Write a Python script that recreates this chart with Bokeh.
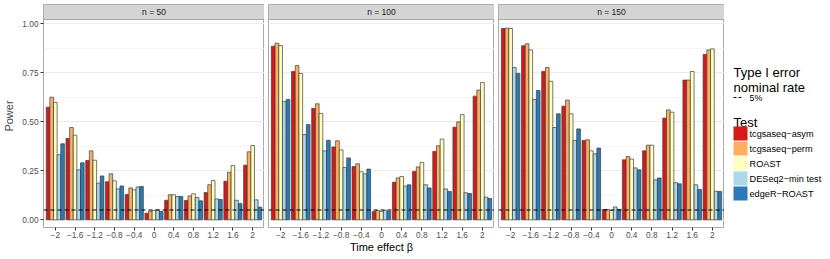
from bokeh.plotting import figure
from bokeh.layouts import row
from bokeh.models import (ColumnDataSource, Range1d, FixedTicker, Span,
                          CustomJSTickFormatter, NumeralTickFormatter)
from bokeh.transform import dodge
from bokeh.core.properties import value
from bokeh.embed import file_html
from bokeh.resources import INLINE

# ---------------- data ----------------
beta = [-2, -1.6, -1.2, -0.8, -0.4, 0, 0.4, 0.8, 1.2, 1.6, 2]
beta_labels = ["\u22122", "\u22121.6", "\u22121.2", "\u22120.8", "\u22120.4", "0",
               "0.4", "0.8", "1.2", "1.6", "2"]
tests = ["tcgsaseq\u2212asym", "tcgsaseq\u2212perm", "ROAST", "DESeq2\u2212min test", "edgeR\u2212ROAST"]
test_keys = ["asym", "perm", "roast", "deseq", "edger"]
colors = ["#D7191C", "#FDAE61", "#FFFFBF", "#ABD9E9", "#2C7BB6"]
panel_labels = ["n = 50", "n = 100", "n = 150"]
y_ticks = [0, 0.25, 0.5, 0.75, 1.0]
y_minor = [0.125, 0.375, 0.625, 0.875]
nominal_rate = 0.05

asym_n50 = [0.575, 0.415, 0.303, 0.194, 0.129, 0.034, 0.100, 0.099, 0.139, 0.197, 0.279]
perm_n50 = [0.626, 0.471, 0.352, 0.235, 0.163, 0.044, 0.128, 0.122, 0.179, 0.243, 0.347]
roast_n50 = [0.599, 0.432, 0.304, 0.199, 0.153, 0.048, 0.128, 0.133, 0.201, 0.277, 0.379]
deseq_n50 = [0.332, 0.255, 0.187, 0.158, 0.168, 0.051, 0.119, 0.114, 0.107, 0.100, 0.102]
edger_n50 = [0.388, 0.291, 0.224, 0.173, 0.170, 0.043, 0.119, 0.097, 0.104, 0.083, 0.065]

asym_n100 = [0.886, 0.757, 0.568, 0.372, 0.272, 0.043, 0.192, 0.247, 0.349, 0.473, 0.631]
perm_n100 = [0.901, 0.787, 0.592, 0.403, 0.286, 0.048, 0.214, 0.270, 0.378, 0.500, 0.662]
roast_n100 = [0.889, 0.747, 0.543, 0.357, 0.245, 0.043, 0.221, 0.293, 0.412, 0.537, 0.701]
deseq_n100 = [0.604, 0.435, 0.352, 0.267, 0.235, 0.049, 0.172, 0.179, 0.158, 0.138, 0.116]
edger_n100 = [0.614, 0.486, 0.406, 0.316, 0.259, 0.044, 0.179, 0.163, 0.145, 0.134, 0.109]

asym_n150 = [0.976, 0.888, 0.757, 0.580, 0.405, 0.053, 0.306, 0.352, 0.519, 0.713, 0.844]
perm_n150 = [0.978, 0.898, 0.777, 0.611, 0.408, 0.053, 0.323, 0.381, 0.561, 0.713, 0.867]
roast_n150 = [0.976, 0.867, 0.707, 0.541, 0.352, 0.048, 0.310, 0.381, 0.549, 0.757, 0.872]
deseq_n150 = [0.777, 0.614, 0.471, 0.405, 0.337, 0.066, 0.265, 0.204, 0.190, 0.179, 0.146]
edger_n150 = [0.747, 0.660, 0.541, 0.464, 0.366, 0.054, 0.255, 0.214, 0.184, 0.155, 0.145]

panels_data = [
    [asym_n50, perm_n50, roast_n50, deseq_n50, edger_n50],
    [asym_n100, perm_n100, roast_n100, deseq_n100, edger_n100],
    [asym_n150, perm_n150, roast_n150, deseq_n150, edger_n150],
]

# ---------------- layout constants ----------------
FONT = "Liberation Sans"
H = 258
TOP = 4
BOTTOM = 31
FRAME_W = 226
FRAME_H = H - TOP - BOTTOM          # 223
STRIP_H = 15
PLOT_H = FRAME_H - STRIP_H          # 208
Y0, Y1 = -0.039, 1.022
Y_TOP = Y1 + (Y1 - Y0) * STRIP_H / PLOT_H
X0, X1 = -2.24, 2.24
BW = 0.0735
BORDER_GREY = "#A9A9A9"


def make_panel(idx, left_border):
    p = figure(width=left_border + FRAME_W, height=H,
               x_range=Range1d(X0, X1), y_range=Range1d(Y0, Y_TOP),
               output_backend="svg", toolbar_location=None,
               min_border_left=left_border, min_border_right=0,
               min_border_top=TOP, min_border_bottom=BOTTOM)
    p.background_fill_color = "white"
    p.border_fill_color = "white"
    p.outline_line_color = BORDER_GREY
    p.outline_line_width = 1

    # grid
    p.xgrid.grid_line_color = None
    p.ygrid.ticker = FixedTicker(ticks=y_ticks, minor_ticks=y_minor)
    p.ygrid.grid_line_color = "#EBEBEB"
    p.ygrid.grid_line_width = 1
    p.ygrid.minor_grid_line_color = "#F3F3F3"
    p.ygrid.minor_grid_line_width = 0.8

    src = ColumnDataSource(dict(beta=beta, **{k: v for k, v in zip(test_keys, panels_data[idx])}))
    for j, key in enumerate(test_keys):
        p.vbar(x=dodge("beta", (j - 2) * BW, range=p.x_range), top=key, bottom=0,
               width=BW, source=src, fill_color=colors[j],
               line_color="#3C3C3C", line_width=0.7)

    p.add_layout(Span(location=nominal_rate, dimension="width", line_color="black",
                      line_dash="4 3", line_width=1.1))

    # strip
    p.quad(left=[X0], right=[X1], bottom=[Y1], top=[Y_TOP],
           fill_color="#D4D4D4", line_color=BORDER_GREY, line_width=1)
    p.text(x=[(X0 + X1) / 2], y=[(Y1 + Y_TOP) / 2], text=[panel_labels[idx]],
           text_font=value(FONT), text_font_size="8.5px", text_color="#1A1A1A",
           text_align="center", text_baseline="middle")

    # x axis
    xa = p.xaxis[0]
    xa.ticker = FixedTicker(ticks=beta, minor_ticks=[])
    xa.formatter = CustomJSTickFormatter(args=dict(vals=beta, labs=beta_labels), code="""
        let best = 0;
        for (let i = 0; i < vals.length; i++) {
            if (Math.abs(vals[i] - tick) < Math.abs(vals[best] - tick)) best = i;
        }
        return labs[best];
    """)
    xa.axis_line_color = None
    xa.major_tick_line_color = "#333333"
    xa.major_tick_out = 3
    xa.major_tick_in = 0
    xa.minor_tick_line_color = None
    xa.major_label_text_font = FONT
    xa.major_label_text_font_size = "8.3px"
    xa.major_label_text_color = "#4D4D4D"
    xa.major_label_standoff = 1
    xa.axis_label = "Time effect \u03b2"
    xa.axis_label_text_font = FONT
    xa.axis_label_text_font_size = "11px"
    xa.axis_label_text_font_style = "normal"
    xa.axis_label_standoff = 0
    xa.axis_label_text_color = "black" if idx == 1 else None

    # y axis
    ya = p.yaxis[0]
    if idx == 0:
        ya.ticker = FixedTicker(ticks=y_ticks, minor_ticks=[])
        ya.formatter = NumeralTickFormatter(format="0.00")
        ya.axis_line_color = None
        ya.major_tick_line_color = "#333333"
        ya.major_tick_out = 3
        ya.major_tick_in = 0
        ya.minor_tick_line_color = None
        ya.major_label_text_font = FONT
        ya.major_label_text_font_size = "8.3px"
        ya.major_label_text_color = "#4D4D4D"
        ya.major_label_standoff = 2
        ya.axis_label = "Power"
        ya.axis_label_text_font = FONT
        ya.axis_label_text_font_size = "11px"
        ya.axis_label_text_font_style = "normal"
        ya.axis_label_standoff = 4
    else:
        ya.visible = False
    return p


p1 = make_panel(0, 38)
p2 = make_panel(1, 4)
p3 = make_panel(2, 4)

# ---------------- legend panel (data units = page pixels) ----------------
LX0 = 38 + FRAME_W + 2 * (4 + FRAME_W)   # 724
LW = 104
leg = figure(width=LW, height=H, x_range=Range1d(LX0, LX0 + LW),
             y_range=Range1d(TOP + FRAME_H, TOP),
             output_backend="svg", toolbar_location=None,
             x_axis_location=None, y_axis_location=None,
             min_border_left=0, min_border_right=0,
             min_border_top=TOP, min_border_bottom=BOTTOM)
leg.outline_line_color = None
leg.xgrid.grid_line_color = None
leg.ygrid.grid_line_color = None
leg.background_fill_color = "white"
leg.border_fill_color = "white"

leg.text(x=[733, 733], y=[72, 87], text=["Type I error", "nominal rate"],
         text_font=value(FONT), text_font_size="13px", text_color="black",
         text_baseline="alphabetic")
leg.segment(x0=[733], y0=[97], x1=[742], y1=[97], line_color="black",
            line_dash="3 2", line_width=1)
leg.text(x=[749], y=[97], text=["5%"], text_font=value(FONT), text_font_size="8.8px",
         text_color="black", text_baseline="middle")
leg.text(x=[733], y=[122], text=["Test"], text_font=value(FONT), text_font_size="13px",
         text_color="black", text_baseline="alphabetic")
key_y = [133 + 15 * i for i in range(len(tests))]
leg.rect(x=[740] * len(tests), y=key_y, width=14, height=14, fill_color=colors,
         line_color=None)
leg.text(x=[749] * len(tests), y=key_y, text=tests, text_font=value(FONT),
         text_font_size="9.2px", text_color="black", text_baseline="middle")

layout = row(p1, p2, p3, leg)
open("out.html", "w").write(file_html(layout, INLINE))
